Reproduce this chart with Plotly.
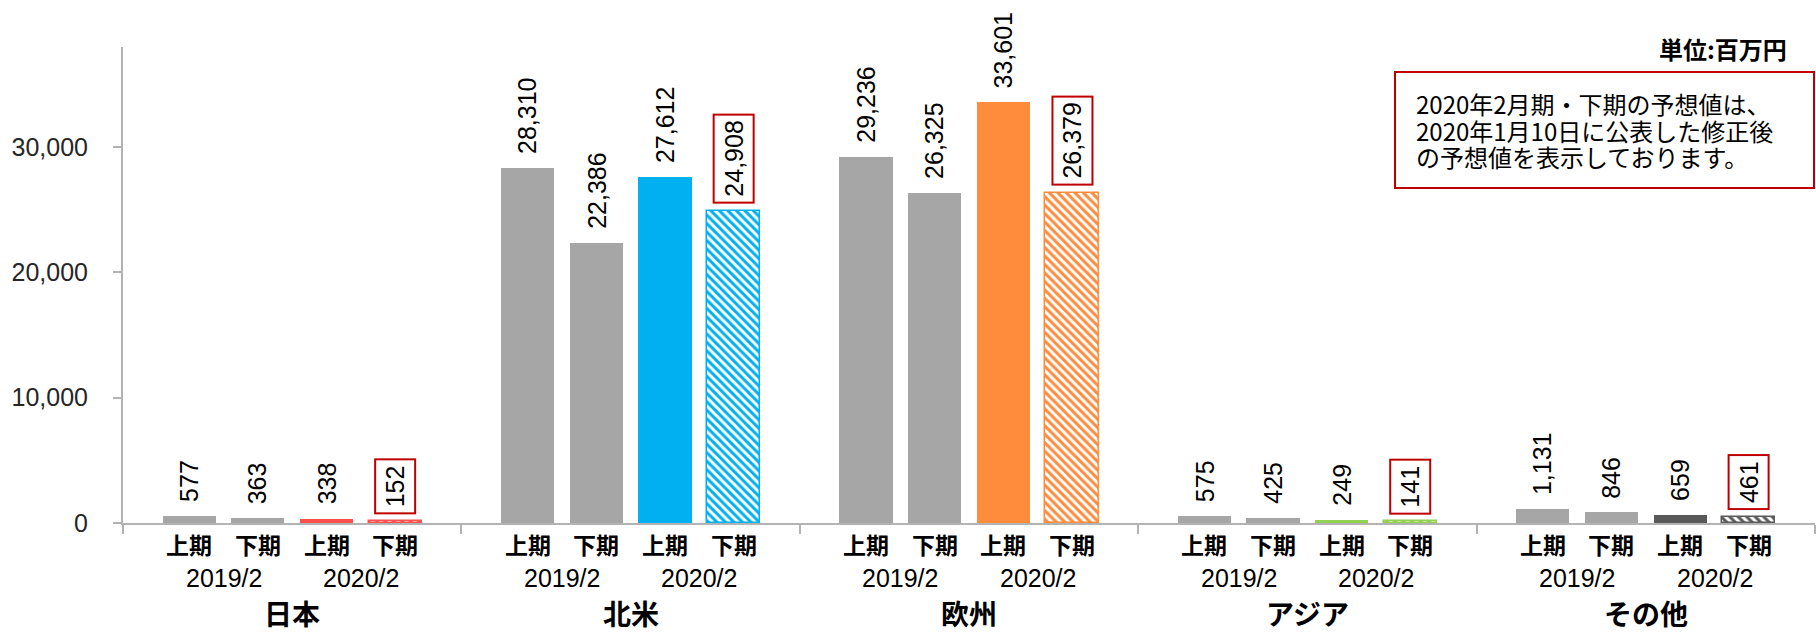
import plotly.graph_objects as go

# ---- data (百万円) ----
regions = ["日本", "北米", "欧州", "アジア", "その他"]
h1_2019 = [577, 28310, 29236, 575, 1131]      # 2019/2 上期
h2_2019 = [363, 22386, 26325, 425, 846]       # 2019/2 下期
h1_2020 = [338, 27612, 33601, 249, 659]       # 2020/2 上期
h2_2020 = [152, 24908, 26379, 141, 461]       # 2020/2 下期 (予想)
period_labels = ["上期", "下期", "上期", "下期"]
year_labels = ["2019/2", "2020/2"]
region_colors = ["#FF5050", "#00B0F0", "#FF8B3D", "#92D050", "#595959"]
y_ticks = [0, 10000, 20000, 30000]

GRAY = "#A6A6A6"
AXIS = "#B3B3B3"
RED = "#C00000"

# ---- geometry ----
W, H = 1816, 634
L, R, T, B = 123, 1815, 47, 523
OFF = 0.203      # distance between bar centres within a region
BW = 0.157       # bar width (in region units)
YMAX = 38000

NUM = "Liberation Sans, Arial, sans-serif"
JP = "Noto Sans CJK JP, sans-serif"


def px_x(px):
    return (px - L) / (R - L)


def px_y(py):
    return (B - py) / (B - T)


series = [h1_2019, h2_2019, h1_2020, h2_2020]
offsets = [-1.5 * OFF, -0.5 * OFF, 0.5 * OFF, 1.5 * OFF]

fig = go.Figure()

for k, (vals, off) in enumerate(zip(series, offsets)):
    xs = [i + off for i in range(len(regions))]
    if k < 2:
        marker = dict(color=GRAY, line=dict(width=0))
    elif k == 2:
        marker = dict(color=region_colors, line=dict(width=0))
    else:
        marker = dict(
            color="white",
            line=dict(color=region_colors, width=1.5),
            pattern=dict(shape="\\", fgcolor=region_colors, bgcolor="white",
                         size=6, solidity=0.5, fillmode="replace"),
        )
    fig.add_trace(go.Bar(x=xs, y=vals, width=BW, marker=marker,
                         showlegend=False, hoverinfo="skip"))

    # value labels above each bar (forecast values are boxed)
    for x, v in zip(xs, vals):
        fig.add_annotation(
            x=x, y=v, xref="x", yref="y", text=f"{v:,}",
            textangle=-90, showarrow=False, yanchor="bottom", yshift=7,
            font=dict(family=NUM, size=25, color="#000000"),
            bordercolor=RED if k == 3 else "rgba(0,0,0,0)",
            borderwidth=2, borderpad=5,
        )

# category labels below the axis
for i, name in enumerate(regions):
    for j, off in enumerate(offsets):
        fig.add_annotation(
            x=i + off, y=0, xref="x", yref="paper", text=f"<b>{period_labels[j]}</b>",
            showarrow=False, yanchor="middle", yshift=-21,
            font=dict(family=JP, size=23, color="#000000"),
        )
    for j, yl in enumerate(year_labels):
        fig.add_annotation(
            x=i + (offsets[2 * j] + offsets[2 * j + 1]) / 2, y=0, xref="x", yref="paper",
            text=yl, showarrow=False, yanchor="middle", yshift=-55,
            font=dict(family=NUM, size=25, color="#000000"),
        )
    fig.add_annotation(
        x=i, y=0, xref="x", yref="paper", text=f"<b>{name}</b>",
        showarrow=False, yanchor="middle", yshift=-90,
        font=dict(family=JP, size=28, color="#000000"),
    )

# unit label
fig.add_annotation(
    x=px_x(1789), y=px_y(48), xref="paper", yref="paper",
    text="<b>単位:百万円</b>", showarrow=False, xanchor="right", yanchor="middle",
    font=dict(family=JP, size=24, color="#000000"),
)

# note box
fig.add_shape(type="rect", xref="paper", yref="paper",
              x0=px_x(1395), x1=px_x(1814), y0=px_y(188), y1=px_y(72),
              line=dict(color=RED, width=2), fillcolor="white", layer="above")
note_lines = ["2020年2月期・下期の予想値は、",
              "2020年1月10日に公表した修正後",
              "の予想値を表示しております。"]
for n, line in enumerate(note_lines):
    fig.add_annotation(
        x=px_x(1414), y=px_y(103.5 + 26.7 * n), xref="paper", yref="paper",
        text=line, showarrow=False, xanchor="left", yanchor="middle",
        font=dict(family=JP, size=24, color="#000000"),
    )

fig.update_layout(
    width=W, height=H,
    margin=dict(l=L, r=W - R, t=T, b=H - B, pad=0),
    paper_bgcolor="white", plot_bgcolor="white",
    barmode="overlay", bargap=0,
    xaxis=dict(range=[-0.5, len(regions) - 0.5], showgrid=False, zeroline=False,
               showline=True, linecolor=AXIS, linewidth=2,
               tickvals=[i - 0.5 for i in range(len(regions) + 1)],
               ticks="outside", ticklen=9, tickwidth=2, tickcolor=AXIS,
               showticklabels=False, fixedrange=True),
    yaxis=dict(range=[0, YMAX], showgrid=False, zeroline=False,
               showline=True, linecolor=AXIS, linewidth=2,
               tickvals=y_ticks, ticktext=[f"{v:,}" for v in y_ticks],
               ticks="outside", ticklen=8, tickwidth=2, tickcolor=AXIS,
               ticklabelstandoff=20,
               tickfont=dict(family="Liberation Sans, Arial, sans-serif", size=25,
                             color="#262626"),
               fixedrange=True),
)

fig.write_html("out.html", config={"displayModeBar": False})
